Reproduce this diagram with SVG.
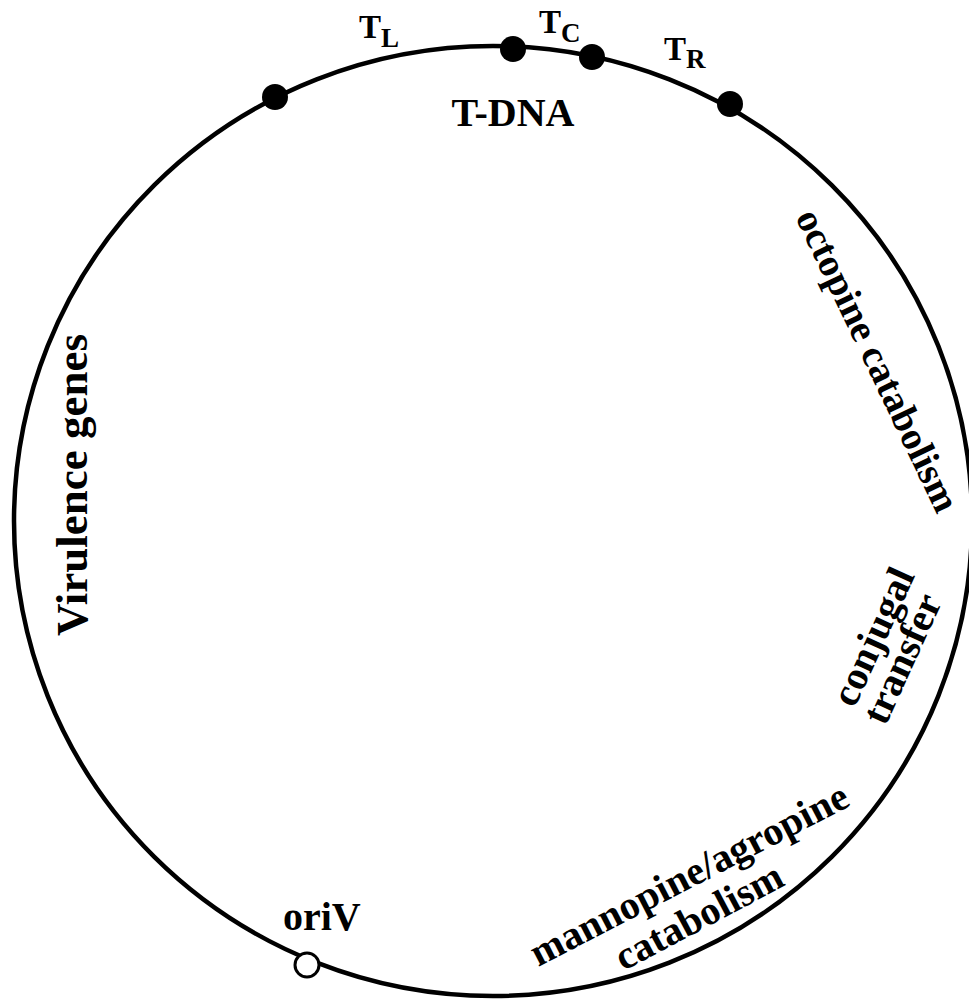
<svg xmlns="http://www.w3.org/2000/svg" width="969" height="1002" viewBox="0 0 969 1002">
  <style>
    .lbl { font-family: "Liberation Serif", "Times New Roman", serif; font-weight: bold; fill: #000; }
    .big { font-size: 40px; }
    .tl { font-size: 33px; }
    .sub { font-size: 27px; }
    .backbone { fill: none; stroke: #000; stroke-width: 4.5; }
    .border { fill: #000; }
    .ori { fill: #fff; stroke: #000; stroke-width: 3; }
  </style>
  <rect width="969" height="1002" fill="#fff"/>

  <!-- plasmid backbone -->
  <g id="connectors">
    <ellipse class="backbone" cx="493" cy="521" rx="479" ry="475"/>
  </g>

  <!-- T-DNA border sites -->
  <g id="border-1"><circle class="border" cx="275" cy="97" r="13"/></g>
  <g id="border-2"><circle class="border" cx="513" cy="49" r="13"/></g>
  <g id="border-3"><circle class="border" cx="592" cy="57" r="13"/></g>
  <g id="border-4"><circle class="border" cx="730" cy="104" r="13"/></g>

  <!-- origin of replication -->
  <g id="oriV">
    <circle class="ori" cx="307" cy="965" r="12"/>
    <text class="lbl big" x="283" y="930">oriV</text>
  </g>

  <!-- T-region labels -->
  <g id="TL"><text class="lbl tl" x="359" y="38">T<tspan class="sub" dy="9">L</tspan></text></g>
  <g id="TC"><text class="lbl tl" x="539" y="33">T<tspan class="sub" dy="9">C</tspan></text></g>
  <g id="TR"><text class="lbl tl" x="664" y="60">T<tspan class="sub" dy="8">R</tspan></text></g>
  <g id="T-DNA"><text class="lbl big" x="513" y="126" text-anchor="middle">T-DNA</text></g>

  <!-- functional regions -->
  <g id="virulence">
    <text class="lbl" font-size="45" text-anchor="middle" transform="translate(87 485) rotate(-90)">Virulence genes</text>
  </g>
  <g id="octopine">
    <text class="lbl" font-size="39" text-anchor="middle" transform="translate(866 366) rotate(64.5)">octopine catabolism</text>
  </g>
  <g id="conjugal">
    <text class="lbl big" text-anchor="middle" transform="translate(885 642) rotate(-65.5)">conjugal</text>
    <text class="lbl big" text-anchor="middle" transform="translate(914 664) rotate(-65.5)">transfer</text>
  </g>
  <g id="mannopine">
    <text class="lbl big" text-anchor="middle" transform="translate(695 886) rotate(-27.3)">mannopine/agropine</text>
    <text class="lbl big" text-anchor="middle" transform="translate(705 928) rotate(-28)">catabolism</text>
  </g>
</svg>
